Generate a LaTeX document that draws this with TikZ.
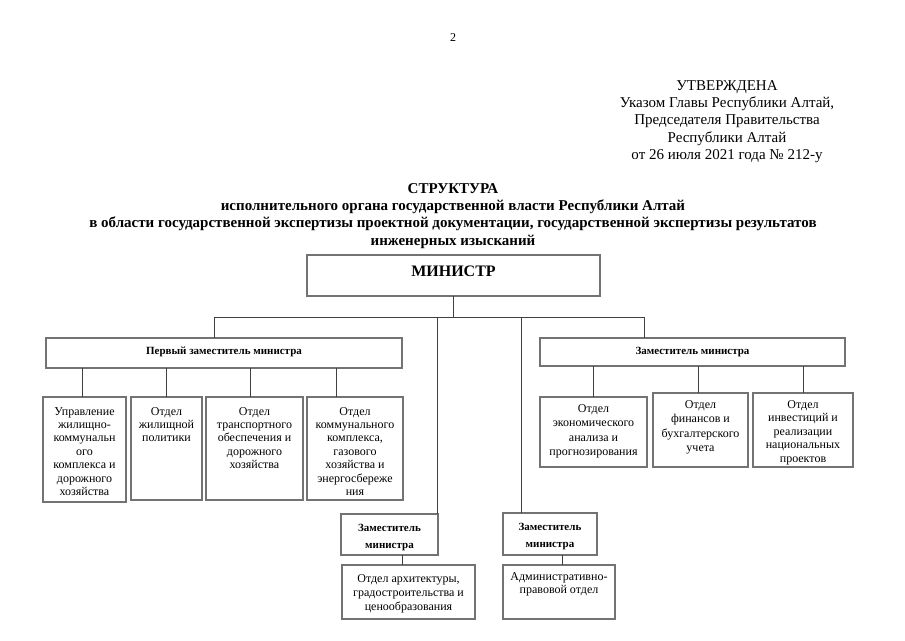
\documentclass[tikz,border=0pt]{standalone}
\usepackage{fontspec}
\setmainfont{Liberation Serif}
\newcommand\obox[7]{%
  \node[box, minimum width={(#4-#2)*1pt}, minimum height={(#5-#3)*1pt},
        label={[#6]north:{#7}}] (#1) at (#2,#3) {};}
\begin{document}
\begin{tikzpicture}[x=1pt,y=-1pt,
  box/.style={draw=black!55, line width=1.2pt, inner sep=0pt, outer sep=0pt, anchor=north west},
  lnk/.style={draw=black!75, line width=0.8pt},
  plain/.style={font=\fontsize{15}{17.4}\selectfont, align=center, inner sep=0pt},
  ttl/.style={font=\bfseries\fontsize{15}{17.4}\selectfont, align=center, inner sep=0pt},
  mtxt/.style={anchor=north, yshift=-10.5pt, inner sep=0pt, font=\bfseries\fontsize{16}{18}\selectfont},
  dtxt/.style={anchor=north, yshift=-9pt, inner sep=0pt, font=\bfseries\fontsize{11}{17}\selectfont, align=center},
  ztxt/.style={anchor=north, yshift=-10pt, inner sep=0pt, font=\bfseries\fontsize{11}{17}\selectfont, align=center},
  otxt/.style={anchor=north, yshift=-10pt, inner sep=0pt, font=\fontsize{12}{13.4}\selectfont, align=center},
  rtxt/.style={anchor=north, yshift=-#1, inner sep=0pt, font=\fontsize{12}{14.5}\selectfont, align=center},
]
\useasboundingbox (0,0) rectangle (905,640);

% header
\node[font=\fontsize{12}{14}\selectfont, inner sep=0pt] (pg) at (453,38) {2};
\node[plain, anchor=north] (appr) at (727,80) {УТВЕРЖДЕНА\\Указом Главы Республики Алтай,\\Председателя Правительства\\Республики Алтай\\от 26 июля 2021 года № 212-у};
\node[ttl, anchor=north] (title) at (453,183) {СТРУКТУРА\\исполнительного органа государственной власти Республики Алтай\\в области государственной экспертизы проектной документации, государственной экспертизы результатов\\инженерных изысканий};

% boxes
\obox{min}{307}{255}{600}{296}{mtxt}{МИНИСТР}
\obox{fd}{46}{338}{402}{368}{dtxt}{Первый заместитель министра}
\obox{rd}{540}{338}{845}{366}{dtxt}{Заместитель министра}

\obox{b1}{43}{397}{126}{502}{otxt}{Управление\\жилищно-\\коммунальн\\ого\\комплекса и\\дорожного\\хозяйства}
\obox{b2}{131}{397}{202}{500}{otxt}{Отдел\\жилищной\\политики}
\obox{b3}{206}{397}{303}{500}{otxt}{Отдел\\транспортного\\обеспечения и\\дорожного\\хозяйства}
\obox{b4}{307}{397}{403}{500}{otxt}{Отдел\\коммунального\\комплекса,\\газового\\хозяйства и\\энергосбереже\\ния}

\obox{b5}{540}{397}{647}{467}{rtxt=7pt}{Отдел\\экономического\\анализа и\\прогнозирования}
\obox{b6}{653}{393}{748}{467}{rtxt=7pt}{Отдел\\финансов и\\бухгалтерского\\учета}
\obox{b7}{753}{393}{853}{467}{rtxt=7pt, font=\fontsize{12}{13.6}\selectfont}{Отдел\\инвестиций и\\реализации\\национальных\\проектов}

\obox{zl}{341}{514}{438}{555}{ztxt}{Заместитель\\министра}
\obox{arch}{342}{565}{475}{619}{rtxt=9pt, font=\fontsize{12}{14}\selectfont}{Отдел архитектуры,\\градостроительства и\\ценообразования}
\obox{zr}{503}{513}{597}{555}{ztxt}{Заместитель\\министра}
\obox{adm}{503}{565}{615}{619}{rtxt=7pt, font=\fontsize{12}{13.5}\selectfont}{Административно-\\правовой отдел}

% bus coordinates
\coordinate (xL) at (214,317);
\coordinate (xA) at (437,317);
\coordinate (xB) at (521,317);
\coordinate (xR) at (644,317);
\coordinate (c1) at (82,0);
\coordinate (c2) at (166,0);
\coordinate (c3) at (250,0);
\coordinate (c4) at (336,0);
\coordinate (d5) at (593,0);
\coordinate (d6) at (698,0);
\coordinate (d7) at (803,0);
\coordinate (e1) at (402,0);
\coordinate (e2) at (562,0);

% connectors
\draw[lnk] (min.south) -- (min.south |- xL);
\draw[lnk] (xL) -- (xR);
\draw[lnk] (xL) -- (xL |- fd.north);
\draw[lnk] (xR) -- (xR |- rd.north);
\draw[lnk] (xA) -- (xA |- zl.north);
\draw[lnk] (xB) -- (xB |- zr.north);
\foreach \c/\b in {c1/b1, c2/b2, c3/b3, c4/b4}
  \draw[lnk] (fd.south -| \c) -- (\b.north -| \c);
\foreach \c/\b in {d5/b5, d6/b6, d7/b7}
  \draw[lnk] (rd.south -| \c) -- (\b.north -| \c);
\draw[lnk] (zl.south -| e1) -- (arch.north -| e1);
\draw[lnk] (zr.south -| e2) -- (adm.north -| e2);
\end{tikzpicture}
\end{document}
